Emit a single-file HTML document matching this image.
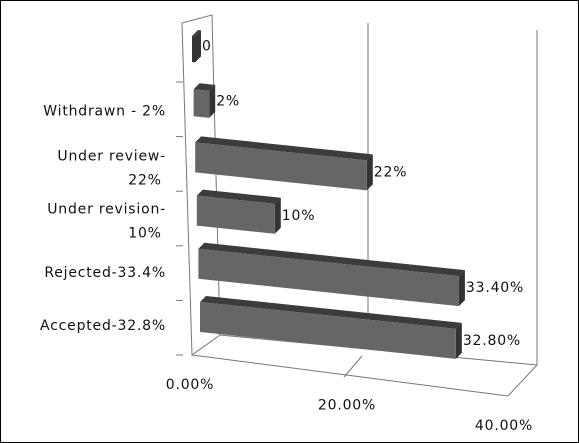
<!DOCTYPE html>
<html><head><meta charset="utf-8"><style>
html,body{margin:0;padding:0;background:#fff}
svg{display:block}
text{font-family:"DejaVu Sans","Liberation Sans",sans-serif;font-size:14px;letter-spacing:0.8px;fill:#111}
</style></head><body>
<svg id="chart" width="579" height="443" viewBox="0 0 579 443">
<rect x="0.5" y="0.5" width="578" height="442" fill="#fff" stroke="#000" stroke-width="1"/>
<g id="walls" stroke="#777" stroke-width="1" fill="none">
<polyline points="182,23 212,15 220,335 192,355 182,23"/>
<line x1="368" y1="23" x2="368" y2="318"/>
<line x1="537" y1="30" x2="537" y2="365"/>
<line x1="220" y1="335" x2="537" y2="365"/>
<line x1="192" y1="355" x2="508" y2="396"/>
<line x1="537" y1="365" x2="508" y2="396"/>
<line x1="362" y1="356" x2="344" y2="377"/>
</g>
<g id="ticks" stroke="#777"></g>
<g id="bars"></g>
<g id="labels"></g>
</svg>
<script>
const categories = ["Accepted-32.8%","Rejected-33.4%","Under revision-|10%","Under review-|22%","Withdrawn - 2%",""];
const values = [32.8,33.4,10,22,2,0];
const valueLabels = ["32.80%","33.40%","10%","22%","2%","0"];
const xTicks = ["0.00%","20.00%","40.00%"];
const xTickVals = [0,20,40];

const NS="http://www.w3.org/2000/svg";
const gB=document.getElementById('bars'), gL=document.getElementById('labels'), gT=document.getElementById('ticks');
const PX=7.8, SLOPE=0.105;
function barLeft(i){return 200-i*1.6;}
function barTop(i){return 302-i*53.2;}
function xLen(v){return v*PX;}
function el(tag,attrs,parent){const e=document.createElementNS(NS,tag);for(const k in attrs)e.setAttribute(k,attrs[k]);parent.appendChild(e);return e;}

for(let i=0;i<6;i++){
  const y=82+i*54.6;
  const t=el('line',{x1:176,y1:y,x2:183,y2:y},gT);
  
  
}

for(let i=values.length-1;i>=0;i--){
  const x0=barLeft(i), y0=barTop(i), h=i==5?26:(i==4?27:30);
  const L=Math.max(xLen(values[i]),3), dy=L*SLOPE, d=6;
  const x1=x0+L, y1=y0+dy;
  const g=el('g',{},gB);
  
  
  el('polygon',{points:`${x0},${y0} ${x1},${y1} ${x1+d},${y1-d} ${x0+d},${y0-d}`,fill:'#3c3c3c'},g);
  el('polygon',{points:`${x1},${y1} ${x1+d},${y1-d} ${x1+d},${y1+h-d} ${x1},${y1+h}`,fill:'#333'},g);
  el('polygon',{points:`${x0},${y0} ${x1},${y1} ${x1},${y1+h} ${x0},${y0+h}`,fill:i==5?'#333':'#666'},g);
  const vt=el('text',{x:x1+d+1,y:y1+h/2+1},gL);
  vt.textContent=valueLabels[i];
  
  
  if(categories[i]){
    const parts=categories[i].split('|');
    const c=barTop(i)+h/2;
    parts.forEach((p,k)=>{
      const yy = parts.length>1 ? c+3+k*24 : c+13;
      const ct=el('text',{x:parts.length>1&&k==1?145:166,y:yy,'text-anchor':parts.length>1&&k==1?'middle':'end'},gL);
      ct.textContent=p;
      
      
    });
  }
}
xTickVals.forEach((v,k)=>{
  const cx=190+v*7.85, cy=355+v*1.03;
  const t=el('text',{x:cx,y:cy+34,'text-anchor':'middle'},gL);
  t.textContent=xTicks[k];
  
  
});
</script>
</body></html>
